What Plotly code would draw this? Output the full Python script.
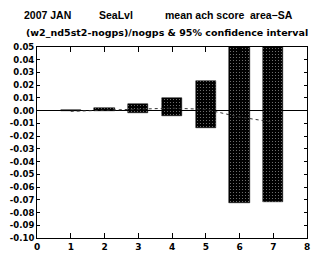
import plotly.graph_objects as go

# ---- data ----
fcst_hour = [1, 2, 3, 4, 5, 6, 7]
ci_upper = [0.0003, 0.0018, 0.0055, 0.0103, 0.0230, 0.0700, 0.0700]
ci_lower = [-0.0003, -0.0005, -0.0015, -0.0040, -0.0140, -0.0725, -0.0720]
mean_diff = [-0.0005, 0.0005, 0.0015, 0.0020, 0.0010, -0.0050, -0.0090]

x_ticks = [0, 1, 2, 3, 4, 5, 6, 7, 8]
y_ticks = [0.05, 0.04, 0.03, 0.02, 0.01, 0.00, -0.01, -0.02, -0.03, -0.04,
           -0.05, -0.06, -0.07, -0.08, -0.09, -0.10]
y_labels = ["%.2f" % v if abs(v) > 1e-9 else "0.00" for v in y_ticks]

title_parts = ["2007 JAN", "SeaLvl", "mean ach score", "area\u2212SA"]
subtitle = "(w2_nd5st2-nogps)/nogps & 95% confidence interval"

FONT = "DejaVu Sans"
TFONT = "Liberation Sans"

# page body has an 8px margin, so the figure is drawn 8px smaller
OFF = 8
W, H = 324 - OFF, 259 - OFF
L, R, T, B = 37 - OFF, 17, 47 - OFF, 21
pw, ph = W - L - R, H - T - B


def px_x(px):
    return (px - OFF - L) / pw


def px_y(py):
    return (H - B - (py - OFF)) / ph


fig = go.Figure()
fig.add_trace(go.Bar(
    x=fcst_hour,
    y=[u - l for u, l in zip(ci_upper, ci_lower)],
    base=ci_lower,
    width=0.6,
    marker=dict(color="black",
                line=dict(color="black", width=0.5),
                pattern=dict(shape=".", fgcolor="white", bgcolor="black",
                             size=3, solidity=0.12)),
    showlegend=False,
))
fig.add_trace(go.Scatter(
    x=fcst_hour, y=mean_diff, mode="lines",
    line=dict(color="#333333", width=1, dash="dot"),
    showlegend=False,
))

title_x = [22, 97, 163, 248]
for txt, xp in zip(title_parts, title_x):
    fig.add_annotation(text="<b>%s</b>" % txt, x=px_x(xp), y=px_y(15),
                       xref="paper", yref="paper", xanchor="left", yanchor="middle",
                       showarrow=False, font=dict(family=TFONT, size=10.5, color="black"))
fig.add_annotation(text="<b>%s</b>" % subtitle, x=px_x(24), y=px_y(32),
                   xref="paper", yref="paper", xanchor="left", yanchor="middle",
                   showarrow=False, font=dict(family=FONT, size=9.5, color="black"))

fig.update_layout(
    width=W, height=H,
    margin=dict(l=L, r=R, t=T, b=B, pad=0, autoexpand=False),
    plot_bgcolor="white", paper_bgcolor="white",
    font=dict(family=FONT, color="black"),
    bargap=0,
)
fig.update_xaxes(
    range=[0, 8], tickvals=x_ticks, ticktext=["<b>%d</b>" % v for v in x_ticks],
    ticks="inside", ticklen=5, tickcolor="black", tickwidth=1,
    showline=True, linecolor="black", linewidth=1, mirror="ticks",
    showgrid=False, zeroline=False, automargin=False,
    tickfont=dict(family=FONT, size=9, color="black"),
)
fig.update_yaxes(
    range=[-0.10, 0.05], tickvals=y_ticks,
    ticktext=["<b>%s</b>" % s for s in y_labels],
    ticks="inside", ticklen=3, tickcolor="black", tickwidth=1,
    showline=True, linecolor="black", linewidth=1, mirror="ticks",
    showgrid=False, zeroline=True, zerolinecolor="black", zerolinewidth=1,
    automargin=False,
    tickfont=dict(family=FONT, size=8.5, color="black"),
)

fig.write_html("out.html")
